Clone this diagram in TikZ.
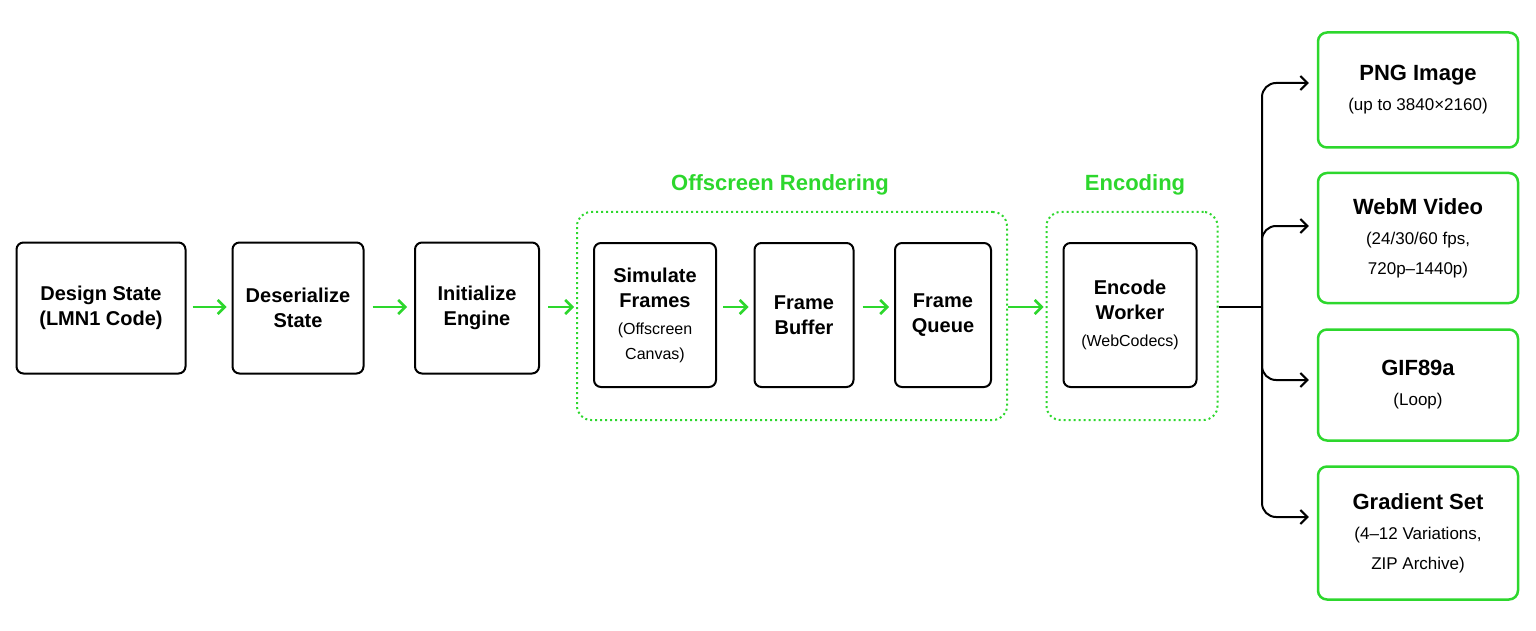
\documentclass[tikz,border=0pt]{standalone}
\usepackage{fontspec}
\setmainfont{Liberation Sans}
\usetikzlibrary{arrows.meta}
\definecolor{grn}{RGB}{45,215,45}
\begin{document}
\begin{tikzpicture}[x=1pt,y=-1pt,
  box/.style={draw=black,line width=2pt,rounded corners=7pt,align=center,inner sep=0pt,font=\fontsize{20}{25}\selectfont\bfseries},
  obox/.style={draw=grn,line width=2.5pt,rounded corners=9pt,align=center,inner sep=0pt,font=\fontsize{22}{30}\selectfont\bfseries},
  grp/.style={draw=grn,line width=2pt,dash pattern=on 2pt off 3pt,rounded corners=14pt},
  glab/.style={text=grn,font=\fontsize{22}{26}\selectfont\bfseries},
  ga/.style={draw=grn,line width=2.5pt,-{Straight Barb[length=7pt,width=14pt]}},
  ka/.style={draw=black,line width=2pt,-{Straight Barb[length=7pt,width=14pt]},rounded corners=14pt},
  sm/.style={font=\fontsize{17}{22}\selectfont\mdseries}]
\useasboundingbox (0,0) rectangle (1536,631);
\node[box,minimum width=169pt,minimum height=131pt] (ds) at (101,308) {Design State\\(LMN1 Code)};
\node[box,minimum width=131pt,minimum height=131pt] (de) at (298,308) {Deserialize\\State};
\node[box,minimum width=124pt,minimum height=131pt] (ie) at (477,308) {Initialize\\Engine};
\node[grp,minimum width=430pt,minimum height=208pt] (og) at (792,316) {};
\node[glab] (ogl) at (780,185) {Offscreen Rendering};
\node[box,minimum width=122pt,minimum height=144pt] (sf) at (655,315) {Simulate\\Frames\\[2pt]{\fontsize{16}{20}\selectfont\mdseries (Offscreen}\\{\fontsize{16}{20}\selectfont\mdseries Canvas)}};
\node[box,minimum width=99pt,minimum height=144pt] (fb) at (804,315) {Frame\\Buffer};
\node[box,minimum width=96pt,minimum height=144pt] (fq) at (943,315) {Frame\\Queue};
\node[grp,minimum width=171pt,minimum height=208pt] (eg) at (1132,316) {};
\node[glab] (egl) at (1135,185) {Encoding};
\node[box,minimum width=133pt,minimum height=144pt] (ew) at (1130,315) {Encode\\Worker\\[2pt]{\fontsize{16}{20}\selectfont\mdseries (WebCodecs)}};
\node[obox,minimum width=200pt,minimum height=115pt] (png) at (1418,90) {PNG Image\\{\fontsize{17}{22}\selectfont\mdseries (up to 3840×2160)}};
\node[obox,minimum width=200pt,minimum height=130pt] (webm) at (1418,238) {WebM Video\\{\fontsize{17}{22}\selectfont\mdseries (24/30/60 fps,}\\{\fontsize{17}{22}\selectfont\mdseries 720p–1440p)}};
\node[obox,minimum width=200pt,minimum height=111pt] (gif) at (1418,385) {GIF89a\\{\fontsize{17}{22}\selectfont\mdseries (Loop)}};
\node[obox,minimum width=200pt,minimum height=133pt] (grad) at (1418,533) {Gradient Set\\{\fontsize{17}{22}\selectfont\mdseries (4–12 Variations,}\\{\fontsize{17}{22}\selectfont\mdseries ZIP Archive)}};
\draw[ga] ([xshift=6pt]ds.east|-0,307) -- ([xshift=-5pt]de.west|-0,307);
\draw[ga] ([xshift=8pt]de.east|-0,307) -- ([xshift=-7pt]ie.west|-0,307);
\draw[ga] ([xshift=8pt]ie.east|-0,307) -- ([xshift=-2pt]og.west|-0,307);
\draw[ga] ([xshift=6pt]sf.east|-0,307) -- ([xshift=-5pt]fb.west|-0,307);
\draw[ga] ([xshift=8pt]fb.east|-0,307) -- ([xshift=-5pt]fq.west|-0,307);
\draw[ga] (og.east|-0,307) -- ([xshift=-2pt]eg.west|-0,307);
\coordinate (j) at (1262,307);
\draw[black,line width=2pt] (eg.east|-0,307) -- (j);
\draw[ka] (j) -- (1262,83) -- ([xshift=-8pt]png.west|-0,83);
\draw[ka] (j) -- (1262,226) -- ([xshift=-8pt]webm.west|-0,226);
\draw[ka] (j) -- (1262,380) -- ([xshift=-8pt]gif.west|-0,380);
\draw[ka] (j) -- (1262,517) -- ([xshift=-8pt]grad.west|-0,517);
\end{tikzpicture}
\end{document}
